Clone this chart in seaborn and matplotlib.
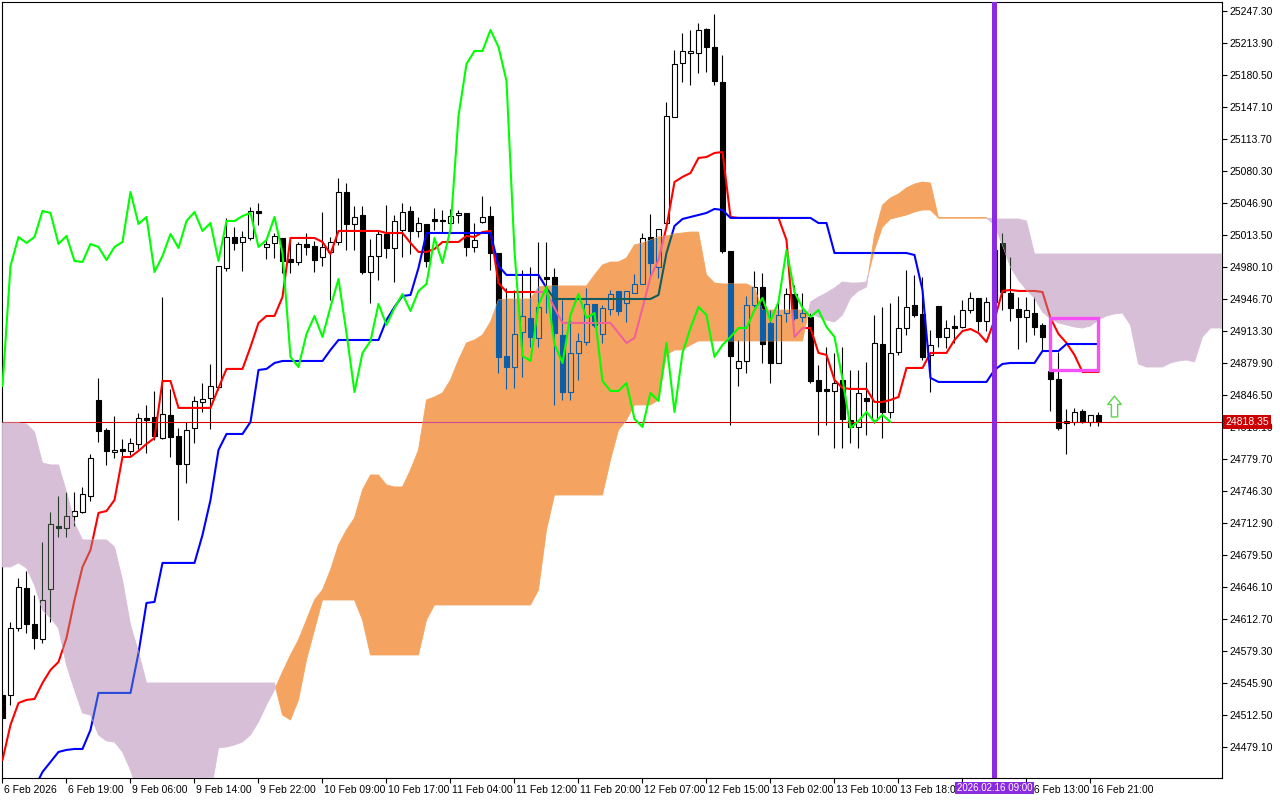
import numpy as np
import pandas as pd
import matplotlib
matplotlib.use("Agg")
import matplotlib.pyplot as plt
import matplotlib.transforms as mtransforms
from matplotlib.path import Path
from matplotlib.patches import Rectangle
import seaborn as sns

# hourly candles, 6 Feb 2026 -> 16 Feb 2026
open_ = [24533.4, 24533.4, 24603.3, 24645.1, 24607.5, 24591.8, 24644.0, 24709.8, 24707.7, 24720.2,
         24724.4, 24741.1, 24841.3, 24810.0, 24787.0, 24790.2, 24788.1, 24795.4, 24822.5, 24823.6,
         24801.6, 24825.6, 24803.7, 24774.5, 24812.1, 24839.2, 24843.4, 24854.9, 24979.1, 25011.4,
         25006.2, 25010.4, 25038.6, 25001.0, 25005.2, 25010.4, 24988.5, 24985.3, 25004.1, 25002.0,
         24990.6, 24995.8, 25006.2, 25058.4, 25025.0, 25034.4, 24974.9, 24991.6, 25014.6, 24999.9,
         25018.7, 25038.6, 25017.7, 25025.0, 25030.2, 25029.2, 25026.0, 25034.4, 25036.5, 25001.0,
         25027.1, 25033.3, 24994.7, 24887.2, 24875.7, 24912.3, 24926.9, 24906.0, 24969.7, 24969.7,
         24909.1, 24849.6, 24890.4, 24901.8, 24941.5, 24910.2, 24936.3, 24955.1, 24942.5, 24953.0,
         24962.4, 25011.4, 24980.1, 25026.0, 25136.7, 25193.0, 25203.5, 25203.5, 25228.5, 25209.7,
         25173.2, 24996.8, 24874.7, 24882.0, 24940.5, 24959.2, 24921.7, 24879.9, 24932.1, 24951.9,
         24927.9, 24927.9, 24862.2, 24852.8, 24850.7, 24862.2, 24820.4, 24813.1, 24843.4, 24820.4,
         24899.7, 24828.8, 24891.4, 24916.4, 24940.5, 24931.1, 24888.3, 24939.4, 24907.1, 24918.5,
         24917.5, 24935.2, 24947.8, 24923.8, 24943.6, 25005.2, 24953.0, 24936.3, 24927.9, 24932.1,
         24919.6, 24871.6, 24863.2, 24817.3, 24818.35, 24829.8, 24818.35, 24825.6]
high = [24538.6, 24609.6, 24655.5, 24662.8, 24637.8, 24693.1, 24724.4, 24741.1, 24745.3, 24745.3,
        24750.5, 24784.9, 24864.3, 24812.1, 24824.6, 24800.6, 24801.6, 24827.7, 24836.1, 24850.7,
        24948.8, 24852.8, 24812.1, 24818.3, 24845.5, 24859.0, 24878.9, 24981.2, 25031.3, 25021.9,
        25017.7, 25042.7, 25046.9, 25010.4, 25015.6, 25010.4, 25008.3, 25006.2, 25015.6, 25007.3,
        25037.5, 25011.4, 25073.0, 25067.8, 25043.8, 25043.8, 25009.3, 25018.7, 25044.8, 25034.4,
        25046.9, 25043.8, 25032.3, 25025.0, 25041.7, 25039.6, 25040.7, 25039.6, 25036.5, 25026.0,
        25054.2, 25043.8, 24994.7, 24958.2, 24956.1, 24977.0, 24980.1, 25006.2, 25006.2, 24979.1,
        24945.7, 24924.8, 24911.2, 24958.2, 24941.5, 24940.5, 24956.1, 24955.1, 24955.1, 24972.8,
        25015.6, 25035.4, 25019.8, 25152.3, 25206.6, 25224.4, 25227.5, 25234.8, 25229.6, 25244.2,
        25201.4, 24996.8, 24903.9, 24949.8, 24975.9, 24973.9, 24935.2, 24943.6, 24958.2, 24961.3,
        24953.0, 24932.1, 24877.8, 24896.6, 24890.4, 24896.6, 24872.6, 24872.6, 24881.0, 24930.0,
        24938.4, 24942.5, 24949.8, 24977.0, 24971.8, 24969.7, 24914.4, 24939.4, 24924.8, 24930.0,
        24945.7, 24954.0, 24947.8, 24948.8, 25003.1, 25015.6, 24990.6, 24948.8, 24948.8, 24948.8,
        24921.7, 24875.7, 24891.4, 24831.9, 24833.0, 24831.9, 24825.6, 24828.8]
low = [24505.2, 24523.0, 24600.2, 24598.1, 24581.4, 24587.7, 24609.6, 24698.3, 24698.3, 24709.8,
       24723.4, 24735.9, 24797.5, 24773.5, 24780.8, 24781.8, 24783.9, 24790.2, 24786.0, 24799.5,
       24800.6, 24781.8, 24716.0, 24754.7, 24796.4, 24828.8, 24811.0, 24851.7, 24975.9, 24997.9,
       24975.9, 25008.3, 25024.0, 24988.5, 24989.5, 24973.9, 24973.9, 24982.2, 24992.6, 24974.9,
       24981.2, 24945.7, 25003.1, 24997.9, 24997.9, 24972.8, 24942.5, 24966.5, 24989.5, 24964.5,
       24990.6, 24993.7, 25011.4, 24980.1, 25018.7, 25015.6, 25018.7, 25026.0, 24991.6, 24995.8,
       25026.0, 24977.0, 24869.5, 24852.8, 24853.8, 24865.3, 24896.6, 24896.6, 24932.1, 24836.1,
       24841.3, 24841.3, 24862.2, 24898.7, 24917.5, 24900.8, 24930.0, 24930.0, 24922.7, 24953.0,
       24962.4, 24969.7, 24968.6, 25026.0, 25136.7, 25173.2, 25170.1, 25182.6, 25183.6, 25170.1,
       24994.7, 24815.2, 24855.9, 24869.5, 24938.4, 24879.9, 24859.0, 24879.9, 24922.7, 24924.8,
       24922.7, 24859.0, 24804.8, 24815.2, 24791.2, 24791.2, 24796.4, 24791.2, 24804.8, 24817.3,
       24801.6, 24822.5, 24888.3, 24909.1, 24928.0, 24883.0, 24849.6, 24896.6, 24895.6, 24900.8,
       24916.4, 24932.1, 24913.3, 24913.3, 24940.5, 24935.2, 24923.8, 24894.5, 24901.8, 24909.1,
       24893.5, 24829.8, 24810.0, 24784.9, 24815.2, 24817.3, 24814.2, 24814.2]
close = [24509.4, 24603.3, 24646.1, 24607.5, 24592.9, 24632.5, 24711.9, 24707.7, 24720.2, 24725.4,
         24743.2, 24780.8, 24808.9, 24788.1, 24789.1, 24788.1, 24796.4, 24822.5, 24820.4, 24803.7,
         24826.7, 24802.7, 24774.5, 24810.0, 24840.3, 24842.3, 24855.9, 24981.2, 25011.4, 25005.2,
         25011.4, 25038.6, 25036.5, 25004.1, 25012.5, 24986.4, 24985.3, 25004.1, 25001.0, 24987.4,
         25001.0, 25006.2, 25058.4, 25025.0, 25032.3, 24974.9, 24991.6, 25014.6, 24999.9, 25028.1,
         25037.5, 25017.7, 25026.0, 24986.4, 25028.1, 25028.1, 25033.3, 25036.5, 25001.0, 25008.3,
         25032.3, 24994.7, 24886.2, 24875.7, 24910.2, 24929.0, 24907.1, 24938.4, 24967.6, 24911.2,
         24849.6, 24890.4, 24902.9, 24941.5, 24919.6, 24937.3, 24951.9, 24934.2, 24955.1, 24962.4,
         25010.4, 24984.3, 25019.8, 25137.7, 25192.0, 25205.6, 25205.6, 25227.5, 25209.7, 25174.3,
         24996.8, 24887.2, 24882.0, 24940.5, 24959.2, 24899.7, 24879.9, 24930.0, 24951.9, 24926.9,
         24932.1, 24861.1, 24850.7, 24850.7, 24859.0, 24821.5, 24813.1, 24848.6, 24840.3, 24900.8,
         24828.8, 24890.4, 24916.4, 24938.4, 24930.0, 24886.2, 24898.7, 24907.1, 24916.4, 24916.4,
         24935.2, 24947.8, 24923.8, 24943.6, 24997.9, 24954.0, 24937.3, 24927.9, 24935.2, 24917.5,
         24907.1, 24863.2, 24812.1, 24819.4, 24828.8, 24818.35, 24825.6, 24818.35]

# Ichimoku lines
tenkan = [24465.5, 24502.1, 24525.0, 24528.2, 24529.2, 24545.9, 24559.5, 24567.8, 24592.9, 24632.5,
          24667.0, 24684.7, 24723.4, 24725.4, 24736.9, 24781.8, 24781.8, 24788.1, 24795.4, 24801.6,
          24861.1, 24861.1] + [24833.0] * 5 + [24853.8] + [24873.7] * 3 + [24896.6, 24921.7, 24929.0,
          24929.0, 24948.8] + [25010.4] * 4 + [25006.2, 24993.7] + [25017.7] * 6 + [25015.6] * 3 + [
          25005.2, 24995.8, 24995.8, 24998.9, 25006.2, 25006.2, 25006.2, 25012.5, 25011.4, 25016.6,
          25017.7, 24963.4] + [24954.0] * 6 + [24937.3] + [24921.7] * 7 + [24911.2, 24900.8, 24906.0,
          24937.3, 24969.7, 24987.4, 25021.9, 25068.8, 25074.1, 25078.2, 25093.9, 25094.9, 25099.1,
          25100.1, 25032.3] + [25031.3] * 6 + [25008.3, 24907.1, 24916.4, 24916.4, 24890.4, 24888.3,
          24862.2, 24853.8, 24852.8, 24852.8, 24852.8, 24839.2, 24839.2, 24841.3, 24844.4, 24874.7,
          24874.7, 24874.7, 24890.4, 24890.4, 24890.4, 24903.9, 24913.3, 24915.4, 24911.2, 24901.8,
          24924.8, 24955.1, 24956.1, 24955.1, 24955.1, 24955.1, 24954.0, 24926.9, 24910.2, 24900.8,
          24888.3, 24870.5, 24870.5, 24870.5]
kijun = [np.nan] * 4 + [24436.3, 24453.0, 24463.5, 24473.9, 24476.0, 24477.0, 24477.0, 24496.9] + [
          24535.5] * 5 + [24577.2, 24629.4, 24630.5] + [24671.2] * 5 + [24700.4, 24736.9, 24789.1] + [
          24805.8] * 3 + [24818.3, 24872.6, 24873.7, 24879.9] + [24882.0] * 6 + [24893.5] + [
          24903.9] * 6 + [24924.8, 24938.4, 24949.8, 24950.9, 24979.1] + [25015.6] * 9 + [24981.2] + [
          24971.8] * 5 + [24958.2] + [24946.7] * 13 + [24950.9, 24994.7, 25022.9, 25030.2, 25032.3,
          25034.4, 25036.5, 25040.7, 25039.6] + [25031.3] * 11 + [25026.0] * 2 + [24994.7] * 10 + [
          24992.6, 24956.1, 24864.3] + [24860.1] * 7 + [24872.6, 24878.9] + [24879.9] * 4 + [
          24892.4] * 3 + [24899.7] * 5

# Senkou spans (already shifted 26 bars ahead)
span_a = [24667.0, 24667.0, 24671.2, 24665.9, 24648.2, 24622.1, 24613.8, 24603.3, 24564.7, 24538.6,
          24514.6, 24512.5, 24491.6, 24485.4, 24484.3, 24473.9, 24455.1] + [24429.0] * 10 + [
          24478.1, 24479.1, 24481.2, 24484.3, 24491.6, 24505.2, 24523.0, 24538.6,
          24557.4, 24575.1, 24590.8, 24611.7, 24632.5, 24643.0, 24663.9, 24690.0, 24705.6, 24718.1,
          24747.4, 24763.0, 24763.0, 24752.6, 24750.5, 24750.5, 24768.2, 24789.1, 24841.3, 24844.4,
          24848.6, 24862.2, 24883.0, 24900.8, 24903.9, 24909.1, 24922.7, 24945.7] + [24946.7] * 4 + [
          24959.2] + [24960.3] * 6 + [24971.8, 24982.2, 24985.3, 24985.3, 24989.5, 25003.1, 25005.2,
          25008.3, 25011.4, 25012.5, 25014.6, 25015.6, 25016.6, 25016.6, 24971.8, 24963.4] + [
          24962.4] * 4 + [24958.2] + [24935.2] * 6 + [
          24932.1, 24927.9, 24924.8, 24922.7, 24930.0, 24947.8, 24955.1, 24959.2, 25013.5, 25044.8,
          25052.1, 25056.3, 25062.6, 25066.7, 25068.8, 25067.8] + [25031.3] * 7 + [
          25024.0, 25003.1, 24980.1, 24966.5, 24956.1, 24947.8, 24933.2, 24925.8, 24921.7, 24919.6,
          24917.5, 24916.4, 24918.5, 24924.8, 24929.0, 24931.1, 24932.1, 24919.6, 24878.9, 24875.7,
          24875.7, 24875.7, 24879.9, 24882.0, 24883.0, 24881.0, 24907.1, 24916.4, 24916.4, 24916.4]
span_b = [24817.3] * 3 + [24816.2, 24807.9, 24775.5, 24773.5, 24773.5, 24745.3, 24712.9] + [
          24695.2] * 4 + [24687.9, 24653.4, 24606.5, 24578.3] + [24545.9] * 17 + [
          24512.5, 24507.3, 24528.2, 24569.9, 24601.2] + [24632.5] * 5 + [24611.7] + [24575.1] * 7 + [
          24611.7] + [24627.3] * 13 + [24643.0, 24705.6] + [24742.1] * 7 + [24778.7, 24810.0,
          24820.4] + [24836.1] * 3 + [24841.3, 24888.3, 24893.5, 24893.5, 24898.7] + [24902.9] * 14 + [
          24943.6, 24948.8, 24953.0, 24958.2, 24964.5, 24963.4, 24963.4, 24964.5, 24997.9, 25021.9,
          25030.2, 25032.3, 25034.4, 25037.5, 25039.6, 25039.6] + [25031.3] * 7 + [25030.2] * 4 + [
          25028.1] + [24993.7] * 25

# the 16 Feb 05:00 label sits under the cursor date box in the original, so it stays blank
date_ticks = [0, 8, 16, 24, 32, 40, 48, 56, 64, 72, 80, 88, 96, 104, 112, 120, 128, 136]
date_labels = ["6 Feb 2026", "6 Feb 19:00", "9 Feb 06:00", "9 Feb 14:00", "9 Feb 22:00",
               "10 Feb 09:00", "10 Feb 17:00", "11 Feb 04:00", "11 Feb 12:00", "11 Feb 20:00",
               "12 Feb 07:00", "12 Feb 15:00", "13 Feb 02:00", "13 Feb 10:00", "13 Feb 18:00",
               "", "16 Feb 13:00", "16 Feb 21:00"]
price_ticks = [25247.30, 25213.90, 25180.50, 25147.10, 25113.70, 25080.30, 25046.90, 25013.50,
               24980.10, 24946.70, 24913.30, 24879.90, 24846.50, 24813.10, 24779.70, 24746.30,
               24712.90, 24679.50, 24646.10, 24612.70, 24579.30, 24545.90, 24512.50, 24479.10]
bid_price = 24818.35
marker_bar = 124
marker_label = "2026.02.16 09:00"
box_bars = (131, 137)
box_prices = (24872.1, 24926.4)
arrow_bar = 139
arrow_price = 24835.0

# colours
RED, BLUE, GREEN = "#ff0000", "#0000ff", "#00ff00"
ORANGE, LILAC = "#f4a460", "#d8bfd8"
IN_ORANGE = {"candle": "#0b5ea8", "tenkan": "#f0609c", "kijun": "#145c60", "bid": "#cc4a90"}
IN_LILAC = {"candle": "#283e28", "tenkan": "#d8443a", "kijun": "#2a4ad8", "bid": "#d84a3a"}

sns.set_theme(style="white")
plt.rcParams["font.family"] = ["Liberation Sans", "DejaVu Sans"]

o, h, l, c = map(np.array, (open_, high, low, close))
bars = np.arange(len(c))
cloud_x = np.arange(len(span_a))
sa, sb = np.array(span_a), np.array(span_b)

fig = plt.figure(figsize=(12.8, 8), dpi=100)
ax = fig.add_axes([2 / 1280, 22 / 800, 1220 / 1280, 776 / 800])
ax.set_xlim(-0.0625, 152.44)
ax.set_ylim(24446.7, 25256.7)

body_lo, body_hi = np.minimum(o, c), np.maximum(o, c)
up = c >= o


def draw_candles(edge, up_face, dn_face, z, clip=None):
    arts = [ax.vlines(bars, body_hi, h, color=edge, lw=0.8, zorder=z),
            ax.vlines(bars, l, body_lo, color=edge, lw=0.8, zorder=z)]
    b1 = ax.bar(bars[up], (body_hi - body_lo)[up], bottom=body_lo[up], width=0.6,
                facecolor=up_face, edgecolor=edge, linewidth=0.8, zorder=z)
    b2 = ax.bar(bars[~up], (body_hi - body_lo)[~up], bottom=body_lo[~up], width=0.6,
                facecolor=dn_face, edgecolor=edge, linewidth=0.8, zorder=z)
    arts += list(b1) + list(b2)
    if clip is not None:
        for a in arts:
            a.set_clip_path(clip, ax.transData)


def draw_line(x, y, color, z, clip=None):
    sns.lineplot(x=x, y=y, color=color, linewidth=1.5, estimator=None, errorbar=None,
                 legend=False, ax=ax, zorder=z)
    if clip is not None:
        ax.lines[-1].set_clip_path(clip, ax.transData)


# base candles + lines
draw_candles("black", "white", "black", 2)
ax.axhline(bid_price, color="#d40000", lw=0.8, zorder=2.5)
draw_line(bars, tenkan, RED, 3)
draw_line(bars, kijun, BLUE, 3)

# kumo
orange = ax.fill_between(cloud_x, sa, sb, where=sa >= sb, interpolate=True,
                         facecolor=ORANGE, edgecolor=ORANGE, lw=0.6, zorder=4)
lilac = ax.fill_between(cloud_x, sa, sb, where=sa < sb, interpolate=True,
                        facecolor=LILAC, edgecolor=LILAC, lw=0.6, zorder=4)
orange_path = Path.make_compound_path(*orange.get_paths())
lilac_path = Path.make_compound_path(*lilac.get_paths())

# what shows through the cloud (MT5 xor look)
for path, cols in ((orange_path, IN_ORANGE), (lilac_path, IN_LILAC)):
    draw_candles(cols["candle"], "none", cols["candle"], 5, clip=path)
    draw_line(bars, tenkan, cols["tenkan"], 5.5, clip=path)
    draw_line(bars, kijun, cols["kijun"], 5.5, clip=path)
    bl = ax.axhline(bid_price, color=cols["bid"], lw=0.8, zorder=5.2)
    bl.set_clip_path(path, ax.transData)

# chikou span = close drawn 26 bars back
draw_line(bars[:len(c) - 26], c[26:], GREEN, 6)

# objects
ax.add_patch(Rectangle((box_bars[0], box_prices[0]), box_bars[1] - box_bars[0],
                       box_prices[1] - box_prices[0], fill=False, edgecolor="#f64ff6",
                       lw=2.4, zorder=7))
arrow = Path([(0, 1), (-0.65, 0.2), (-0.3, 0.2), (-0.3, -1), (0.3, -1), (0.3, 0.2), (0.65, 0.2), (0, 1)],
             [Path.MOVETO] + [Path.LINETO] * 6 + [Path.CLOSEPOLY])
ax.plot([arrow_bar], [arrow_price], marker=arrow, markersize=15, markerfacecolor="white",
        markeredgecolor="#5cd64a", markeredgewidth=1, linestyle="none", zorder=7)
ax.axvline(marker_bar, color="#8a2be2", lw=3.6, zorder=8)

# axes
for sp in ax.spines.values():
    sp.set_color("black")
    sp.set_linewidth(0.8)
ax.set_xlabel("")
ax.set_ylabel("")
ax.yaxis.tick_right()
ax.set_yticks(price_ticks)
ax.set_yticklabels([f"{p:.2f}" for p in price_ticks])
ax.set_xticks(date_ticks)
ax.set_xticklabels(date_labels)
ax.tick_params(axis="y", left=False, right=True, direction="out", length=3.5, width=0.8,
               pad=1.5, labelsize=7.5, colors="black")
ax.tick_params(axis="x", bottom=True, direction="out", length=3.5, width=0.8,
               pad=1.5, labelsize=7.5, colors="black")
shift = mtransforms.ScaledTranslation(2 / 100, 0, fig.dpi_scale_trans)
for lab in ax.get_xticklabels():
    lab.set_horizontalalignment("left")
    lab.set_transform(lab.get_transform() + shift)

ax.text(1.0 + 3 / 1220, bid_price, f"{bid_price:.2f}",
        transform=mtransforms.blended_transform_factory(ax.transAxes, ax.transData),
        ha="left", va="center", color="white", fontsize=7.5, zorder=10, clip_on=False,
        bbox=dict(boxstyle="square,pad=0.2", facecolor="#cc0000", edgecolor="none"))
ax.text(marker_bar, -0.0129, marker_label,
        transform=mtransforms.blended_transform_factory(ax.transData, ax.transAxes),
        ha="center", va="center", color="white", fontsize=7.0, zorder=10, clip_on=False,
        bbox=dict(boxstyle="square,pad=0.15", facecolor="#8a2be2", edgecolor="none"))

fig.savefig("out.png", dpi=100)
